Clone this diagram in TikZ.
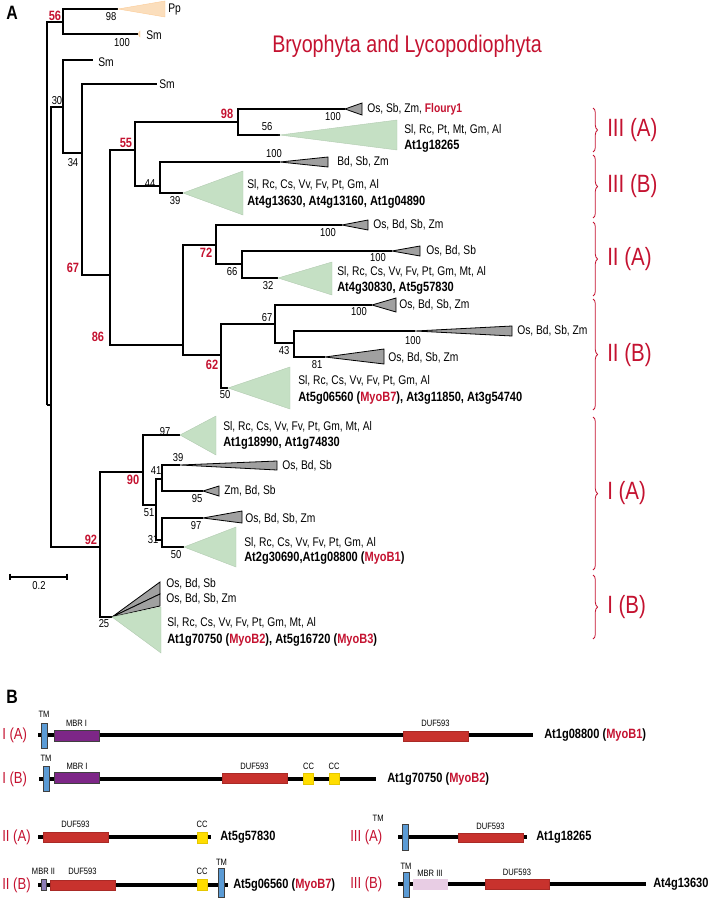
\documentclass[tikz,border=0pt]{standalone}
\usepackage{fontspec}
\setmainfont{Liberation Sans}[FakeStretch=0.82]
\usetikzlibrary{positioning, decorations.pathreplacing}

\definecolor{myred}{RGB}{196,18,48}
\definecolor{cladegrn}{RGB}{197,224,196}
\definecolor{cladegrey}{RGB}{160,160,160}
\definecolor{peach}{RGB}{251,222,188}
\definecolor{tmblue}{RGB}{91,155,213}
\definecolor{mbrpurple}{RGB}{125,38,135}
\definecolor{dufred}{RGB}{200,50,45}
\definecolor{ccyellow}{RGB}{255,221,0}
\definecolor{mbrlav}{RGB}{140,125,185}
\definecolor{mbrpink}{RGB}{232,205,228}

\begin{document}
\begin{tikzpicture}[
    x=0.75pt, y=-0.75pt,
    br/.style={line width=1pt},
    tax/.style={anchor=west, inner sep=0pt, font=\fontsize{9.4}{11}\selectfont},
    gene/.style={anchor=west, inner sep=0pt, font=\fontsize{10.1}{12}\selectfont\bfseries},
    bs/.style={inner sep=0pt, font=\fontsize{8.6}{10}\selectfont},
    bsred/.style={inner sep=0pt, text=myred, font=\fontsize{10.1}{12}\selectfont\bfseries},
    grn/.style={fill=cladegrn, draw=cladegrn!90!black, line width=0.3pt},
    gry/.style={fill=cladegrey, draw=black, line width=0.6pt},
    pch/.style={fill=peach, draw=peach!80!orange, line width=0.3pt},
    grp/.style={draw=myred, line width=0.6pt, decorate, decoration={brace, amplitude=3.5pt}},
    grplab/.style={anchor=west, inner sep=0pt, text=myred, font=\fontsize{18.75}{22}\selectfont},
    panel/.style={inner sep=0pt, font=\fontsize{14.5}{17}\selectfont\bfseries},
    bb/.style={line width=3pt},
    dom/.style={draw=black!75, line width=0.4pt, inner sep=0pt, outer sep=0pt},
    tm/.style={dom, fill=tmblue, minimum width=4.5pt, minimum height=19pt},
    mbr/.style={dom, fill=mbrpurple, minimum width=33.75pt, minimum height=8pt},
    duf/.style={dom, fill=dufred, draw=dufred!85!black, minimum width=48.75pt, minimum height=7.5pt},
    cc/.style={dom, fill=ccyellow, draw=ccyellow!90!black, minimum width=7.5pt, minimum height=8pt},
    dlab/.style={inner sep=0pt, font=\fontsize{6.9}{8}\selectfont},
    gname/.style={anchor=west, inner sep=0pt, font=\fontsize{10.1}{12}\selectfont\bfseries},
    cls/.style={anchor=west, inner sep=0pt, text=myred, font=\fontsize{12}{14}\selectfont}
]
\useasboundingbox (0,0) rectangle (711,899);

% panel A
\node[panel] (pA) at (12,13) {A};
\node[anchor=base west, inner sep=0pt, text=myred, font=\fontsize{18}{21}\selectfont] (bryo) at (272,53) {Bryophyta and Lycopodiophyta};

% tree nodes
\coordinate (r) at (47,405);
\coordinate (n56) at (63,22);
\coordinate (pp) at (118,9);
\coordinate (sm0) at (138,34);
\coordinate (nA) at (51,405);
\coordinate (n30) at (63,107);
\coordinate (sm1) at (93,60);
\coordinate (n34) at (82,153);
\coordinate (sm2) at (157,84);
\coordinate (n67) at (110,275);
\coordinate (n55) at (135,150);
\coordinate (n98) at (238,122);
\coordinate (t98a) at (345,109);
\coordinate (t98b) at (280,135);
\coordinate (n44) at (160,186);
\coordinate (t44a) at (280,162);
\coordinate (t44b) at (183,193);
\coordinate (n86) at (183,345);
\coordinate (n72) at (216,245);
\coordinate (t72a) at (342,225);
\coordinate (n66) at (242,264);
\coordinate (t66a) at (392,251);
\coordinate (t66b) at (278,278);
\coordinate (n62) at (221,355);
\coordinate (n67b) at (275,324);
\coordinate (t67a) at (372,305);
\coordinate (n43) at (294,343);
\coordinate (t43a) at (415,331);
\coordinate (t43b) at (325,357);
\coordinate (t62) at (228,388);
\coordinate (n92) at (100,547);
\coordinate (n90) at (143,472);
\coordinate (t97) at (180,435);
\coordinate (n51) at (156,505);
\coordinate (n41) at (162,479);
\coordinate (t41a) at (180,465);
\coordinate (t41b) at (203,491);
\coordinate (n31) at (162,540);
\coordinate (t31a) at (203,518);
\coordinate (t31b) at (184,547);
\coordinate (t25) at (112,617);

% branches
\draw[br] (r) |- (n56) (r) |- (nA)
  (n56) |- (pp) (n56) |- (sm0)
  (nA) |- (n30) (nA) |- (n92)
  (n30) |- (sm1) (n30) |- (n34)
  (n34) |- (sm2) (n34) |- (n67)
  (n67) |- (n55) (n67) |- (n86)
  (n55) |- (n98) (n55) |- (n44)
  (n98) |- (t98a) (n98) |- (t98b)
  (n44) |- (t44a) (n44) |- (t44b)
  (n86) |- (n72) (n86) |- (n62)
  (n72) |- (t72a) (n72) |- (n66)
  (n66) |- (t66a) (n66) |- (t66b)
  (n62) |- (n67b) (n62) |- (t62)
  (n67b) |- (t67a) (n67b) |- (n43)
  (n43) |- (t43a) (n43) |- (t43b)
  (n92) |- (n90) (n92) |- (t25)
  (n90) |- (t97) (n90) |- (n51)
  (n51) |- (n41) (n51) |- (n31)
  (n41) |- (t41a) (n41) |- (t41b)
  (n31) |- (t31a) (n31) |- (t31b);

% collapsed clades
\filldraw[pch] (pp) -- (165,1) -- (165,17) -- cycle;
\filldraw[pch] (sm0) -- (140,31) -- (140,37) -- cycle;
\filldraw[gry] (t98a) -- (362,103) -- (362,115) -- cycle;
\filldraw[grn] (t98b) -- (397,120) -- (397,150) -- cycle;
\filldraw[gry] (t44a) -- (328,157) -- (328,167) -- cycle;
\filldraw[grn] (t44b) -- (243,171) -- (243,215) -- cycle;
\filldraw[gry] (t72a) -- (368,220) -- (368,230) -- cycle;
\filldraw[gry] (t66a) -- (420,246) -- (420,256) -- cycle;
\filldraw[grn] (t66b) -- (332,262) -- (332,295) -- cycle;
\filldraw[gry] (t67a) -- (396,298) -- (396,312) -- cycle;
\filldraw[gry] (t43a) -- (512,326) -- (512,336) -- cycle;
\filldraw[gry] (t43b) -- (384,349) -- (384,364) -- cycle;
\filldraw[grn] (t62) -- (290,367) -- (290,409) -- cycle;
\filldraw[grn] (t97) -- (216,416) -- (216,455) -- cycle;
\filldraw[gry] (t41a) -- (277,461) -- (277,470) -- cycle;
\filldraw[gry] (t41b) -- (219,486) -- (219,496) -- cycle;
\filldraw[gry] (t31a) -- (242,511) -- (242,523) -- cycle;
\filldraw[grn] (t31b) -- (236,527) -- (236,567) -- cycle;
\filldraw[gry] (t25) -- (160,582) -- (160,594) -- cycle;
\filldraw[gry] (t25) -- (160,594) -- (160,606) -- cycle;
\filldraw[grn] (t25) -- (161,607) -- (161,653) -- cycle;

% taxa
\node[tax] (lpp) at (168,9) {Pp};
\node[tax] (lsm0) at (146,35) {Sm};
\node[tax] (lsm1) at (98,62) {Sm};
\node[tax] (lsm2) at (159,84) {Sm};
\node[tax] (l98a) at (367,109) {Os, Sb, Zm, \textcolor{myred}{\bfseries Floury1}};
\node[tax] (l98b) at (404,130) {Sl, Rc, Pt, Mt, Gm, Al};
\node[gene] (g98b) at (404,146) {At1g18265};
\node[tax] (l44a) at (337,162) {Bd, Sb, Zm};
\node[tax] (l44b) at (247,185) {Sl, Rc, Cs, Vv, Fv, Pt, Gm, Al};
\node[gene] (g44b) at (247,202) {At4g13630, At4g13160, At1g04890};
\node[tax] (l72a) at (373,225) {Os, Bd, Sb, Zm};
\node[tax] (l66a) at (426,251) {Os, Bd, Sb};
\node[tax] (l66b) at (337,272) {Sl, Rc, Cs, Vv, Fv, Pt, Gm, Mt, Al};
\node[gene] (g66b) at (337,288) {At4g30830, At5g57830};
\node[tax] (l67a) at (399,305) {Os, Bd, Sb, Zm};
\node[tax] (l43a) at (517,331) {Os, Bd, Sb, Zm};
\node[tax] (l43b) at (388,358) {Os, Bd, Sb, Zm};
\node[tax] (l62) at (298,381) {Sl, Rc, Cs, Vv, Fv, Pt, Gm, Al};
\node[gene] (g62) at (298,398) {At5g06560 (\textcolor{myred}{MyoB7}), At3g11850, At3g54740};
\node[tax] (l97) at (223,427) {Sl, Rc, Cs, Vv, Fv, Pt, Gm, Mt, Al};
\node[gene] (g97) at (223,443) {At1g18990, At1g74830};
\node[tax] (l41a) at (282,466) {Os, Bd, Sb};
\node[tax] (l41b) at (224,491) {Zm, Bd, Sb};
\node[tax] (l31a) at (245,519) {Os, Bd, Sb, Zm};
\node[tax] (l31b) at (244,543) {Sl, Rc, Cs, Vv, Fv, Pt, Gm, Al};
\node[gene] (g31b) at (244,558) {At2g30690,At1g08800 (\textcolor{myred}{MyoB1})};
\node[tax] (l25a) at (166,584) {Os, Bd, Sb};
\node[tax] (l25b) at (166,599) {Os, Bd, Sb, Zm};
\node[tax] (l25c) at (167,623) {Sl, Rc, Cs, Vv, Fv, Pt, Gm, Mt, Al};
\node[gene] (g25c) at (167,640) {At1g70750 (\textcolor{myred}{MyoB2}), At5g16720 (\textcolor{myred}{MyoB3})};

% bootstrap values
\node[bsred] (b1) at (55,16) {56};
\node[bs] (b2) at (111,17) {98};
\node[bs] (b3) at (122,43) {100};
\node[bs] (b4) at (57,101) {30};
\node[bs] (b5) at (73,163) {34};
\node[bsred] (b6) at (227,114) {98};
\node[bs] (b7) at (333,117) {100};
\node[bs] (b8) at (267,127) {56};
\node[bsred] (b9) at (126,143) {55};
\node[bs] (b10) at (274,154) {100};
\node[bs] (b11) at (150,184) {44};
\node[bs] (b12) at (175,201) {39};
\node[bsred] (b13) at (73,268) {67};
\node[bs] (b14) at (328,233) {100};
\node[bsred] (b15) at (206,253) {72};
\node[bs] (b16) at (378,258) {100};
\node[bs] (b17) at (232,272) {66};
\node[bs] (b18) at (268,286) {32};
\node[bs] (b19) at (359,312) {100};
\node[bs] (b20) at (267,318) {67};
\node[bsred] (b21) at (98,337) {86};
\node[bs] (b22) at (413,341) {100};
\node[bs] (b23) at (284,351) {43};
\node[bsred] (b24) at (212,365) {62};
\node[bs] (b25) at (317,365) {81};
\node[bs] (b26) at (225,395) {50};
\node[bs] (b27) at (165,432) {97};
\node[bs] (b28) at (178,458) {39};
\node[bs] (b29) at (156,471) {41};
\node[bsred] (b30) at (133,480) {90};
\node[bs] (b31) at (197,499) {95};
\node[bs] (b32) at (149,513) {51};
\node[bs] (b33) at (196,526) {97};
\node[bs] (b34) at (153,540) {31};
\node[bsred] (b35) at (91,540) {92};
\node[bs] (b36) at (176,555) {50};
\node[bs] (b37) at (104,624) {25};

% scale bar
\coordinate (sb1) at (10,577);
\coordinate (sb2) at (67,577);
\draw[br] (sb1) -- (sb2);
\draw[br] ([yshift=2.6pt]sb1) -- ([yshift=-2.6pt]sb1);
\draw[br] ([yshift=2.6pt]sb2) -- ([yshift=-2.6pt]sb2);
\node[bs] (sbl) at (39,586) {0.2};

% groups
\draw[grp] (593,108) -- (593,152);
\node[grplab] (gIIIA) at (607,130) {III (A)};
\draw[grp] (593,155) -- (593,218);
\node[grplab] (gIIIB) at (607,186) {III (B)};
\draw[grp] (593,222) -- (593,296);
\node[grplab] (gIIA) at (607,259) {II (A)};
\draw[grp] (593,299) -- (593,410);
\node[grplab] (gIIB) at (607,355) {II (B)};
\draw[grp] (593,417) -- (593,570);
\node[grplab] (gIA) at (607,493) {I (A)};
\draw[grp] (593,575) -- (593,639);
\node[grplab] (gIB) at (607,607) {I (B)};

% panel B
\node[panel] (pB) at (12,697) {B};

% I (A)
\node[cls] (cIA) at (2,735) {I (A)};
\coordinate (ia0) at (38,735);
\coordinate (ia1) at (533,735);
\draw[bb] (ia0) -- (ia1);
\node[tm] (iatm) at (44,735.5) {};
\node[mbr] (iambr) at (76.5,735.5) {};
\node[duf] (iaduf) at (435.5,736) {};
\node[dlab, above=4pt of iatm] (iatml) {TM};
\node[dlab, above=2.5pt of iambr] (iambrl) {MBR I};
\node[dlab, above=3pt of iaduf] (iadufl) {DUF593};
\node[gname] (gnIA) at (544,735) {At1g08800 (\textcolor{myred}{MyoB1})};

% I (B)
\node[cls] (cIB) at (2,779) {I (B)};
\coordinate (ib0) at (39,779);
\coordinate (ib1) at (376,779);
\draw[bb] (ib0) -- (ib1);
\node[tm] (ibtm) at (46,778.5) {};
\node[mbr] (ibmbr) at (77,778) {};
\node[duf] (ibduf) at (254.5,778) {};
\node[cc] (ibcc1) at (308.5,779) {};
\node[cc] (ibcc2) at (334,779) {};
\node[dlab, above=3pt of ibtm] (ibtml) {TM};
\node[dlab, above=2.5pt of ibmbr] (ibmbrl) {MBR I};
\node[dlab, above=2.5pt of ibduf] (ibdufl) {DUF593};
\node[dlab, above=3pt of ibcc1] (ibcc1l) {CC};
\node[dlab, above=3pt of ibcc2] (ibcc2l) {CC};
\node[gname] (gnIB) at (387,779) {At1g70750 (\textcolor{myred}{MyoB2})};

% II (A)
\node[cls] (cIIA) at (2,837) {II (A)};
\coordinate (iia0) at (38,837);
\coordinate (iia1) at (211,837);
\draw[bb] (iia0) -- (iia1);
\node[duf] (iiaduf) at (75.5,837) {};
\node[cc] (iiacc) at (202,837.5) {};
\node[dlab, above=3pt of iiaduf] (iiadufl) {DUF593};
\node[dlab, above=3pt of iiacc] (iiaccl) {CC};
\node[gname] (gnIIA) at (220,837) {At5g57830};

% II (B)
\node[cls] (cIIB) at (2,885) {II (B)};
\coordinate (iib0) at (38,885);
\coordinate (iib1) at (228,885);
\draw[bb] (iib0) -- (iib1);
\node[dom, fill=mbrlav, minimum width=3.75pt, minimum height=8.25pt] (iibmbr) at (43.5,884.5) {};
\node[duf] (iibduf) at (82.5,885) {};
\node[cc] (iibcc) at (202,884.5) {};
\node[tm, minimum height=21.75pt] (iibtm) at (221.5,882.5) {};
\node[dlab, above=3pt of iibmbr] (iibmbrl) {MBR II};
\node[dlab, above=3.5pt of iibduf] (iibdufl) {DUF593};
\node[dlab, above=3pt of iibcc] (iibccl) {CC};
\node[dlab, above=2pt of iibtm] (iibtml) {TM};
\node[gname] (gnIIB) at (233,885) {At5g06560 (\textcolor{myred}{MyoB7})};

% III (A)
\node[cls] (cIIIA) at (350,837) {III (A)};
\coordinate (iiia0) at (398,837);
\coordinate (iiia1) at (527,837);
\draw[bb] (iiia0) -- (iiia1);
\node[tm, minimum height=19.5pt] (iiiatm) at (405.5,837) {};
\node[duf, minimum height=6.75pt] (iiiaduf) at (490.5,837.5) {};
\node[dlab, above left=2pt and 14pt of iiiatm] (iiiatml) {TM};
\node[dlab, above=2pt of iiiaduf] (iiiadufl) {DUF593};
\node[gname] (gnIIIA) at (536,837) {At1g18265};

% III (B)
\node[cls] (cIIIB) at (350,884) {III (B)};
\coordinate (iiib0) at (398,884);
\coordinate (iiib1) at (646,884);
\draw[bb] (iiib0) -- (iiib1);
\node[tm, minimum height=18.75pt] (iiibtm) at (406,884.5) {};
\node[dom, fill=mbrpink, draw=mbrpink, minimum width=25.5pt, minimum height=7.5pt] (iiibmbr) at (430,884) {};
\node[duf, minimum width=48pt] (iiibduf) at (517,884) {};
\node[dlab, above=2pt of iiibtm] (iiibtml) {TM};
\node[dlab, above=2pt of iiibmbr] (iiibmbrl) {MBR III};
\node[dlab, above=2pt of iiibduf] (iiibdufl) {DUF593};
\node[gname] (gnIIIB) at (653,884) {At4g13630};
\end{tikzpicture}
\end{document}
